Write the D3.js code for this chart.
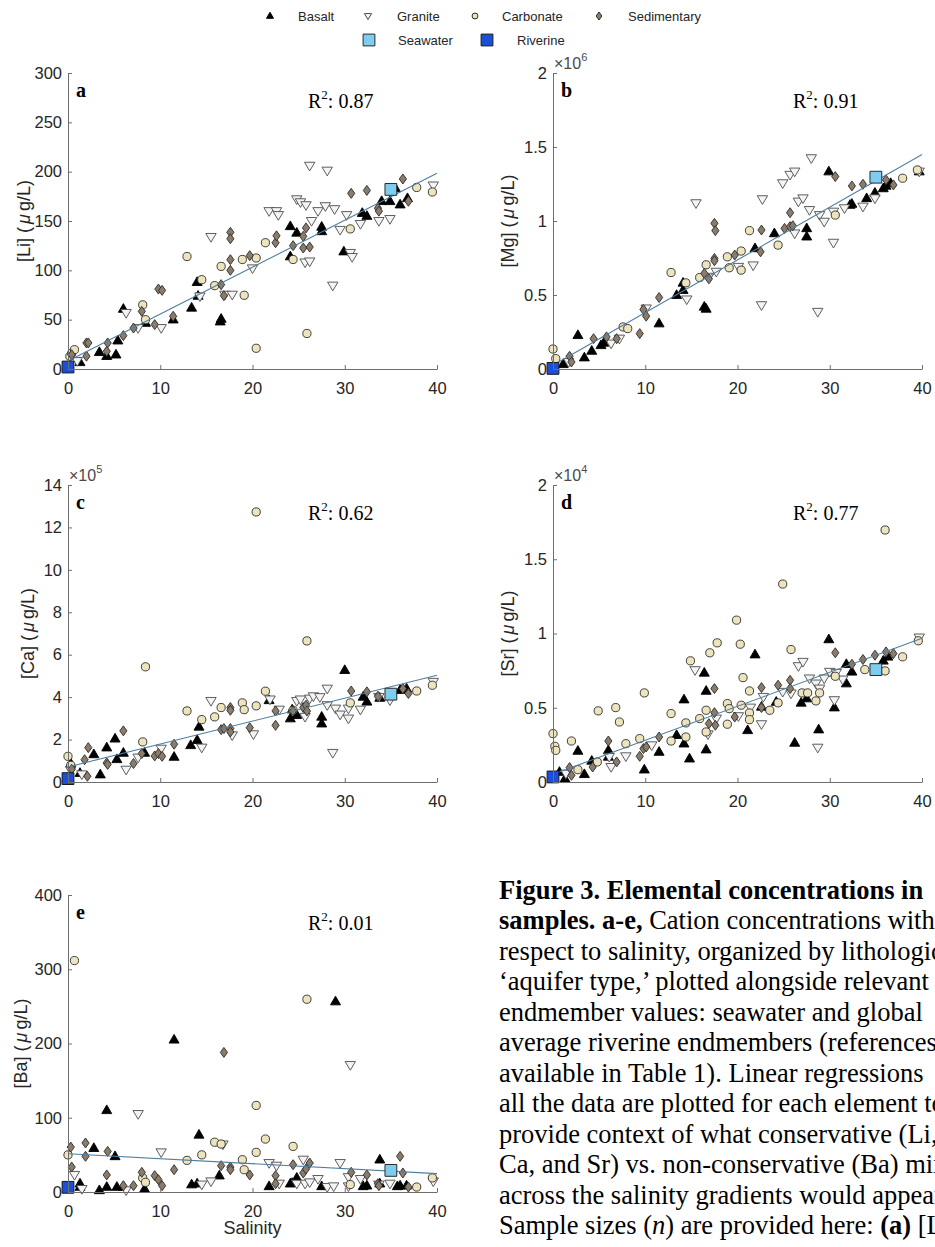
<!DOCTYPE html>
<html>
<head>
<meta charset="utf-8">
<script src="https://cdn.jsdelivr.net/npm/d3@7"></script>
<style>
  body { margin: 0; background: #fff; }
  svg { display: block; }
</style>
</head>
<body>
<svg id="fig" width="935" height="1247"></svg>
<script>
// ---------- data: [salinity, concentration] per lithology ----------
const salinityTicks = [0, 10, 20, 30, 40];

// (a) Li, µg/L
const liBasalt = [[1.3,6.8],[3.4,17],[4.2,13],[5.2,14.5],[5.4,28.7],[6.0,60.8],[8.4,46.6],[11.4,50],[13.4,62],[14.0,88],[14.1,74],[16.5,48],[16.6,50.7],[24.1,144.6],[24.1,114],[24.8,138],[27.5,139.5],[27.5,144],[29.9,119],[31.9,158],[32.4,155],[34.0,170],[34.9,170],[35.5,183],[36.0,166.6],[36.8,173]];
const liGranite = [[1.0,8],[6.3,56.8],[7.6,41.5],[10.1,41.5],[14.3,73.6],[15.5,133.8],[17.0,75.3],[17.8,75.3],[20.0,102],[21.8,160],[22.6,160],[22.8,156],[24.8,172],[25.2,169],[25.7,108],[25.8,166],[26.2,109],[26.2,206],[26.4,150],[27.1,160],[27.9,165],[28.1,201],[28.7,84.5],[28.9,162],[29.5,141],[30.2,156],[30.6,117.6],[30.8,113.5],[31.7,147],[33.7,150],[34.9,152],[39.6,186]];
const liCarbonate = [[0.2,12.8],[0.4,16],[0.7,19.6],[8.1,65],[8.4,50],[12.9,114],[14.5,90.5],[15.9,84.5],[16.6,104],[18.9,111],[19.1,74.7],[20.4,112.5],[20.4,21],[21.4,128],[24.4,111],[25.9,36],[30.6,142],[37.8,184],[39.5,179.4]];
const liSedimentary = [[0.4,14.5],[2.0,26.4],[2.2,26.4],[2.0,13],[4.2,18],[4.3,26.4],[6.0,33.8],[7.1,41.5],[8.0,58.4],[9.4,45],[9.8,81],[10.2,79.7],[11.4,53.4],[16.6,85.5],[16.9,74.3],[17.6,138.5],[17.6,132],[17.6,110.8],[17.6,100],[19.7,114.9],[22.5,128],[22.6,135],[24.4,125],[25.5,134.5],[25.5,122.6],[25.8,143],[26.2,123.6],[30.7,178],[32.4,181],[33.6,163],[33.7,160],[36.3,192.6],[36.9,170]];
const liTicks = [0, 50, 100, 150, 200, 250, 300];

// (b) Mg, ×10^6 µg/L
const mgBasalt = [[1.1,0.032],[2.7,0.228],[3.4,0.077],[4.2,0.122],[5.2,0.16],[5.5,0.176],[11.5,0.307],[13.4,0.499],[14.1,0.582],[14.1,0.533],[16.4,0.42],[16.6,0.406],[21.9,0.815],[24.0,0.916],[27.5,0.95],[27.5,0.894],[29.9,1.334],[32.2,1.108],[32.4,1.115],[34.0,1.153],[34.9,1.19],[35.8,1.22],[36.1,1.237],[36.6,1.255],[39.7,1.334]];
const mgGranite = [[1.7,0.047],[6.3,0.172],[7.2,0.205],[10.1,0.409],[14.5,0.47],[15.5,1.12],[16.9,0.623],[17.7,0.657],[20.1,0.69],[21.7,0.70],[22.6,0.431],[22.7,1.147],[24.9,1.255],[25.7,1.312],[26.2,1.334],[26.2,0.916],[26.6,1.131],[27.1,1.153],[28.0,1.424],[27.8,1.074],[28.7,0.386],[28.9,1.04],[29.4,0.995],[30.4,0.853],[30.4,1.063],[31.6,1.086],[33.6,1.097],[34.9,1.153],[39.7,1.334]];
const mgCarbonate = [[0.0,0.135],[0.3,0.07],[7.6,0.284],[8.1,0.273],[12.8,0.652],[14.4,0.582],[15.9,0.618],[16.6,0.704],[18.9,0.758],[19.1,0.684],[20.4,0.797],[20.4,0.668],[21.3,0.935],[24.4,0.837],[30.6,1.04],[37.9,1.289],[39.5,1.345]];
const mgSedimentary = [[1.8,0.086],[2.0,0.047],[4.4,0.205],[5.8,0.217],[6.9,0.205],[9.4,0.239],[9.8,0.402],[10.1,0.357],[11.5,0.483],[16.4,0.646],[16.9,0.609],[17.5,0.984],[17.6,0.935],[17.5,0.747],[17.5,0.731],[19.7,0.77],[22.5,0.792],[22.6,0.939],[25.1,0.95],[25.7,0.962],[25.7,1.056],[26.0,0.968],[30.6,1.30],[32.4,1.237],[33.6,1.248],[36.1,1.278],[36.9,1.244]];
const mgTicks = [0, 0.5, 1, 1.5, 2];

// (c) Ca, ×10^5 µg/L
const caBasalt = [[0.3,0.87],[1.3,0.42],[2.8,1.3],[3.5,0.35],[4.2,1.62],[5.1,2.04],[5.3,1.07],[6.0,1.37],[8.3,1.37],[11.5,1.18],[13.3,1.73],[14.0,1.97],[14.2,2.6],[21.8,3.85],[24.1,2.99],[24.3,3.41],[24.8,3.15],[27.5,3.07],[27.5,2.75],[30.0,5.27],[32.0,4.01],[32.4,3.78],[33.8,3.96],[36.0,4.33],[36.7,4.4]];
const caGranite = [[0.3,0.55],[1.5,0.36],[6.3,0.58],[7.6,1.15],[10.1,1.57],[14.5,1.62],[15.5,3.82],[17.8,2.2],[20.1,2.25],[21.9,3.89],[22.9,3.41],[24.8,3.82],[25.2,3.89],[25.7,3.07],[26.2,3.93],[26.6,4.04],[27.3,4.0],[28.1,4.4],[28.1,3.62],[28.7,1.37],[29.0,3.46],[29.5,3.18],[30.4,3.46],[30.4,2.99],[31.7,3.41],[33.7,4.01],[34.9,3.85],[39.6,4.72]];
const caCarbonate = [[0.0,1.21],[0.3,0.79],[8.1,1.89],[8.4,5.43],[12.9,3.35],[14.5,2.94],[15.9,3.07],[16.6,3.51],[18.9,3.73],[19.1,3.41],[20.4,12.73],[20.4,3.59],[21.4,4.28],[24.4,3.38],[25.9,6.65],[30.6,3.73],[37.8,4.29],[39.5,4.56]];
const caSedimentary = [[0.4,0.6],[2.1,0.27],[1.8,1.05],[2.2,1.62],[4.2,0.9],[4.3,0.83],[6.0,2.41],[7.1,0.87],[8.0,1.34],[9.4,1.23],[9.8,1.34],[10.2,1.21],[11.5,1.78],[16.6,2.47],[16.9,2.52],[17.6,3.51],[17.6,3.38],[17.6,2.52],[17.6,2.36],[19.7,2.56],[22.5,2.67],[22.5,3.35],[24.4,3.35],[25.5,3.51],[25.8,3.62],[25.9,3.35],[30.7,4.29],[32.4,4.25],[33.6,4.04],[36.3,4.4],[36.9,4.17]];
const caTicks = [0, 2, 4, 6, 8, 10, 12, 14];

// (d) Sr, ×10^4 µg/L
const srBasalt = [[0.7,0.067],[1.3,0.022],[2.7,0.209],[3.4,0.052],[4.2,0.142],[6.0,0.169],[6.0,0.213],[9.9,0.083],[11.5,0.202],[13.4,0.315],[14.2,0.258],[14.2,0.555],[14.8,0.157],[16.4,0.735],[16.6,0.613],[16.6,0.218],[21.1,0.348],[21.9,0.858],[22.6,0.506],[24.2,0.539],[26.2,0.263],[26.9,0.533],[27.5,0.562],[28.8,0.353],[29.9,0.96],[30.5,0.501],[31.8,0.663],[31.8,0.793],[32.4,0.742],[35.8,0.816],[36.3,0.843]];
const srGranite = [[1.4,0.056],[6.3,0.101],[6.1,0.169],[7.9,0.173],[10.7,0.247],[15.4,0.753],[16.8,0.321],[17.7,0.427],[20.1,0.443],[21.4,0.501],[22.8,0.573],[22.6,0.389],[24.9,0.607],[25.8,0.596],[26.6,0.78],[27.1,0.809],[27.8,0.697],[28.5,0.663],[28.7,0.231],[28.9,0.629],[29.4,0.697],[30.0,0.742],[30.5,0.551],[30.7,0.735],[31.4,0.69],[39.7,0.973]];
const srCarbonate = [[0.0,0.326],[0.2,0.24],[0.3,0.213],[2.0,0.276],[2.7,0.083],[4.9,0.479],[4.8,0.135],[6.8,0.501],[7.2,0.404],[7.9,0.258],[9.4,0.292],[9.9,0.6],[12.8,0.461],[12.8,0.276],[14.4,0.398],[14.4,0.303],[14.9,0.816],[15.9,0.427],[16.6,0.483],[16.6,0.337],[17.0,0.87],[17.8,0.937],[18.9,0.528],[18.9,0.389],[19.1,0.494],[19.9,1.09],[20.3,0.928],[20.4,0.517],[20.6,0.703],[21.3,0.613],[21.3,0.465],[21.3,0.42],[23.5,0.483],[24.4,0.533],[24.9,1.333],[25.8,0.892],[27.0,0.6],[27.6,0.6],[28.5,0.546],[28.9,0.6],[30.6,0.712],[33.8,0.757],[36.0,1.697],[36.0,0.748],[37.9,0.843],[39.6,0.951]];
const srSedimentary = [[1.8,0.097],[2.0,0.045],[4.3,0.101],[6.0,0.276],[6.9,0.135],[9.4,0.173],[9.8,0.225],[10.1,0.236],[11.5,0.303],[16.9,0.393],[17.5,0.629],[17.6,0.382],[17.5,0.467],[19.7,0.438],[22.6,0.636],[22.6,0.501],[24.4,0.652],[25.7,0.685],[25.7,0.629],[30.6,0.87],[32.4,0.793],[33.6,0.825],[34.9,0.854],[36.1,0.876],[36.9,0.865]];
const srTicks = [0, 0.5, 1, 1.5, 2];

// (e) Ba, µg/L
const baBasalt = [[1.3,11.2],[1.3,6.7],[2.8,59],[3.4,2.2],[4.2,110],[4.2,6.7],[5.1,48],[5.3,6.7],[6.0,6.7],[8.3,4],[11.5,205],[13.4,10],[14.0,11.2],[14.2,77],[16.4,22],[21.8,7.6],[24.1,11.2],[24.3,12],[24.8,19],[27.5,7.6],[29.0,256.5],[32.0,7.6],[32.4,8.5],[33.8,43.5],[33.8,11.2],[35.7,7.6],[36.0,8.5],[36.7,8.5]];
const baGranite = [[0.7,23],[1.5,4],[6.3,2.2],[7.6,105],[10.1,53.4],[14.5,10],[15.5,14.3],[16.8,64],[21.8,39],[22.6,35.4],[22.9,11.2],[24.8,11.2],[25.5,43.5],[25.7,11.2],[26.2,13],[27.1,17.5],[28.1,6.7],[28.8,7.6],[29.5,39],[30.4,7.6],[30.4,20],[30.6,171],[31.7,17.5],[33.7,10],[34.9,11.2],[39.6,14.3]];
const baCarbonate = [[0.0,50],[0.7,311.7],[8.1,19],[8.4,13],[12.9,42.6],[14.5,50],[15.9,67],[16.6,64.6],[18.9,43.5],[19.1,30],[20.4,116.6],[20.4,53.4],[21.4,71.3],[24.4,61.4],[25.9,259.6],[30.6,10],[37.8,6.7],[39.5,19]];
const baSedimentary = [[0.3,60.5],[0.4,33.6],[1.9,66],[1.9,48],[4.2,23],[4.3,54.7],[6.0,8.5],[7.1,8.5],[8.0,26.5],[9.4,22],[9.8,16.6],[10.2,8.5],[11.5,30],[16.6,35.4],[16.9,188],[17.6,33.6],[17.6,30],[19.7,23],[22.5,22],[22.5,11.2],[24.4,36.8],[25.5,25.6],[25.8,31],[26.2,39],[30.7,26.5],[32.4,23],[33.6,11.2],[33.7,8.5],[36.0,48],[36.3,25.6],[36.9,6.7]];
const baTicks = [0, 100, 200, 300, 400];

// endmembers, one [salinity, value] per panel a..e
const seawaterPoints = [[35, 182], [35, 1.296], [35, 4.14], [35, 0.757], [35, 29.1]];
const riverinePoints = [[0, 2], [0, 0.004], [0, 0.16], [0, 0.034], [0, 6.3]];

// linear fits on all samples, per panel a..e
const fitIntercepts = [8, 0.025, 0.71, 0.052, 51.6];
const fitSlopes = [4.76, 0.0356, 0.108, 0.0229, -0.67];
const rSquared = ["0.87", "0.91", "0.62", "0.77", "0.01"];

const panelLetters = ["a", "b", "c", "d", "e"];
const elements = ["Li", "Mg", "Ca", "Sr", "Ba"];
const exponents = [null, "6", "5", "4", null];

const legendLabels = ["Basalt", "Granite", "Carbonate", "Sedimentary", "Seawater", "Riverine"];

// caption, one entry per line: [text, style] with b = bold, i = italic
const captionLines = [
  [["Figure 3. Elemental concentrations in", "b"]],
  [["samples. a-e,", "b"], [" Cation concentrations with", ""]],
  [["respect to salinity, organized by lithologic", ""]],
  [["\u2018aquifer type,\u2019 plotted alongside relevant", ""]],
  [["endmember values: seawater and global", ""]],
  [["average riverine endmembers (references", ""]],
  [["available in Table 1). Linear regressions", ""]],
  [["all the data are plotted for each element to", ""]],
  [["provide context of what conservative (Li, Mg,", ""]],
  [["Ca, and Sr) vs. non-conservative (Ba) mixing", ""]],
  [["across the salinity gradients would appear.", ""]],
  [["Sample sizes (", ""], ["n", "i"], [") are provided here: ", ""], ["(a)", "b"], [" [Li]", ""]]
];

// ---------- styling ----------
const SANS = "'Liberation Sans', Arial, Helvetica, sans-serif";
const SERIF = "'Liberation Serif', 'Times New Roman', Times, serif";
const AXIS_COLOR = "#6e6e6e";
const TEXT_COLOR = "#262626";

const markerStyles = {
  Basalt:      { fill: "#000000", stroke: "#000000" },
  Granite:     { fill: "#f4f4f4", stroke: "#4d4d4d" },
  Carbonate:   { fill: "#ede4bd", stroke: "#2b2b2b" },
  Sedimentary: { fill: "#8b7b69", stroke: "#2b2b2b" },
  Seawater:    { fill: "#7ecdf0", stroke: "#2b2b2b" },
  Riverine:    { fill: "#1c4fd8", stroke: "#1a1a1a" }
};

// marker outlines, k scales the size
function markerPath(kind, k) {
  const p = d3.path();
  if (kind === "Basalt") {
    p.moveTo(0, -5.4 * k); p.lineTo(5 * k, 3.3 * k); p.lineTo(-5 * k, 3.3 * k); p.closePath();
  } else if (kind === "Granite") {
    p.moveTo(-5.2 * k, -3.5 * k); p.lineTo(5.2 * k, -3.5 * k); p.lineTo(0, 5.2 * k); p.closePath();
  } else if (kind === "Carbonate") {
    p.arc(0, 0, 4.1 * k, 0, 2 * Math.PI); p.closePath();
  } else if (kind === "Sedimentary") {
    p.moveTo(0, -5 * k); p.lineTo(3.6 * k, 0); p.lineTo(0, 5 * k); p.lineTo(-3.6 * k, 0); p.closePath();
  } else {
    p.rect(-5.9 * k, -5.9 * k, 11.8 * k, 11.8 * k);
  }
  return p.toString();
}

const svg = d3.select("#fig");
svg.append("rect").attr("width", 935).attr("height", 1247).attr("fill", "#fff");

// ---------- legend ----------
const legendItems = [
  { kind: "Basalt", mx: 270, tx: 298, y: 16, k: 0.7 },
  { kind: "Granite", mx: 368, tx: 397, y: 16, k: 0.7 },
  { kind: "Carbonate", mx: 475, tx: 502, y: 16, k: 0.72 },
  { kind: "Sedimentary", mx: 599, tx: 628, y: 16, k: 0.8 },
  { kind: "Seawater", mx: 369, tx: 398, y: 40, k: 1.0 },
  { kind: "Riverine", mx: 487, tx: 517, y: 40, k: 1.0 }
];
const legend = svg.append("g").attr("class", "legend");
legendItems.forEach((it, i) => {
  const st = markerStyles[it.kind];
  legend.append("path")
    .attr("d", markerPath(it.kind, it.k))
    .attr("transform", `translate(${it.mx},${it.y})`)
    .attr("fill", st.fill).attr("stroke", st.stroke).attr("stroke-width", 1);
  legend.append("text")
    .attr("x", it.tx).attr("y", it.y + 4.5)
    .attr("font-family", SANS).attr("font-size", 13).attr("fill", TEXT_COLOR)
    .text(legendLabels[i]);
});

// ---------- panels ----------
const panelData = [
  { series: [liBasalt, liGranite, liCarbonate, liSedimentary], ticks: liTicks, box: [68, 437, 73, 369], ylabX: 24 },
  { series: [mgBasalt, mgGranite, mgCarbonate, mgSedimentary], ticks: mgTicks, box: [553, 922, 73, 369], ylabX: 508 },
  { series: [caBasalt, caGranite, caCarbonate, caSedimentary], ticks: caTicks, box: [68, 437, 485, 782], ylabX: 28 },
  { series: [srBasalt, srGranite, srCarbonate, srSedimentary], ticks: srTicks, box: [553, 922, 485, 782], ylabX: 508 },
  { series: [baBasalt, baGranite, baCarbonate, baSedimentary], ticks: baTicks, box: [68, 437, 895, 1192], ylabX: 21 }
];
const kinds = ["Basalt", "Granite", "Carbonate", "Sedimentary"];

panelData.forEach((pd, i) => {
  const [left, right, top, bottom] = pd.box;
  const x = d3.scaleLinear().domain([0, 40]).range([left, right]);
  const yMax = pd.ticks[pd.ticks.length - 1];
  const y = d3.scaleLinear().domain([0, yMax]).range([bottom, top]);
  const g = svg.append("g").attr("class", "panel-" + panelLetters[i]);

  // scatter by lithology
  pd.series.forEach((pts, s) => {
    const st = markerStyles[kinds[s]];
    g.append("g").selectAll("path").data(pts).join("path")
      .attr("d", markerPath(kinds[s], 1))
      .attr("transform", d => `translate(${x(d[0])},${y(d[1])})`)
      .attr("fill", st.fill).attr("stroke", st.stroke).attr("stroke-width", 0.9);
  });

  // regression line
  const fit = s => fitIntercepts[i] + fitSlopes[i] * s;
  g.append("line")
    .attr("x1", x(0)).attr("y1", y(fit(0)))
    .attr("x2", x(40)).attr("y2", y(fit(40)))
    .attr("stroke", "#4f7f9f").attr("stroke-width", 1.1);

  // endmembers
  [["Seawater", seawaterPoints[i]], ["Riverine", riverinePoints[i]]].forEach(([kind, d]) => {
    const st = markerStyles[kind];
    g.append("path")
      .attr("d", markerPath(kind, 1))
      .attr("transform", `translate(${x(d[0])},${y(d[1])})`)
      .attr("fill", st.fill).attr("stroke", st.stroke).attr("stroke-width", 1);
  });

  // axes (box off, ticks pointing inward)
  const fmt = d3.format("~g");
  const yAxis = g.append("g").attr("transform", `translate(${left},0)`)
    .call(d3.axisLeft(y).tickValues(pd.ticks).tickFormat(fmt).tickSize(-4).tickSizeOuter(0).tickPadding(6));
  const xAxis = g.append("g").attr("transform", `translate(0,${bottom})`)
    .call(d3.axisBottom(x).tickValues(salinityTicks).tickFormat(fmt).tickSize(-4).tickSizeOuter(0).tickPadding(13));
  [yAxis, xAxis].forEach(ax => {
    ax.select(".domain").attr("stroke", AXIS_COLOR).attr("stroke-width", 1);
    ax.selectAll(".tick line").attr("stroke", AXIS_COLOR).attr("stroke-width", 1);
    ax.selectAll(".tick text").attr("font-family", SANS).attr("font-size", 16.5).attr("fill", TEXT_COLOR);
  });

  // y label with italic mu
  const yl = g.append("text")
    .attr("transform", `translate(${pd.ylabX},${(top + bottom) / 2}) rotate(-90)`)
    .attr("text-anchor", "middle").attr("dominant-baseline", "central")
    .attr("font-family", SANS).attr("font-size", 18).attr("fill", TEXT_COLOR);
  yl.append("tspan").text(`[${elements[i]}] (`);
  yl.append("tspan").attr("font-style", "italic").attr("dx", 3).text("\u03bc");
  yl.append("tspan").attr("dx", 3).text("g/L)");

  // scale exponent
  if (exponents[i]) {
    const ex = g.append("text").attr("x", left + 1).attr("y", top - 4)
      .attr("font-family", SANS).attr("font-size", 16).attr("fill", "#4a4a4a");
    ex.append("tspan").text("\u00d710");
    ex.append("tspan").attr("font-size", 11).attr("dy", -8).text(exponents[i]);
  }

  // panel letter
  g.append("text").attr("x", left + 8).attr("y", top + 24)
    .attr("font-family", SERIF).attr("font-weight", "bold").attr("font-size", 20)
    .attr("fill", "#000").text(panelLetters[i]);

  // R squared
  const r = g.append("text").attr("x", left + 240).attr("y", top + 35)
    .attr("font-family", SERIF).attr("font-size", 20).attr("fill", "#000");
  r.append("tspan").text("R");
  r.append("tspan").attr("font-size", 13).attr("dy", -9).text("2");
  r.append("tspan").attr("dy", 9).text(": " + rSquared[i]);
});

// x label under the bottom panel
svg.append("text")
  .attr("x", (68 + 437) / 2).attr("y", 1234)
  .attr("text-anchor", "middle")
  .attr("font-family", SANS).attr("font-size", 18).attr("fill", TEXT_COLOR)
  .text("Salinity");

// ---------- caption (runs past the right page edge) ----------
const cap = svg.append("g").attr("class", "caption");
captionLines.forEach((segs, li) => {
  const t = cap.append("text")
    .attr("x", 499).attr("y", 899 + li * 30.45)
    .attr("font-family", SERIF).attr("font-size", 26.5).attr("fill", "#000");
  segs.forEach(([txt, style]) => {
    const ts = t.append("tspan").text(txt);
    if (style === "b") ts.attr("font-weight", "bold");
    if (style === "i") ts.attr("font-style", "italic");
  });
});
</script>
</body>
</html>
